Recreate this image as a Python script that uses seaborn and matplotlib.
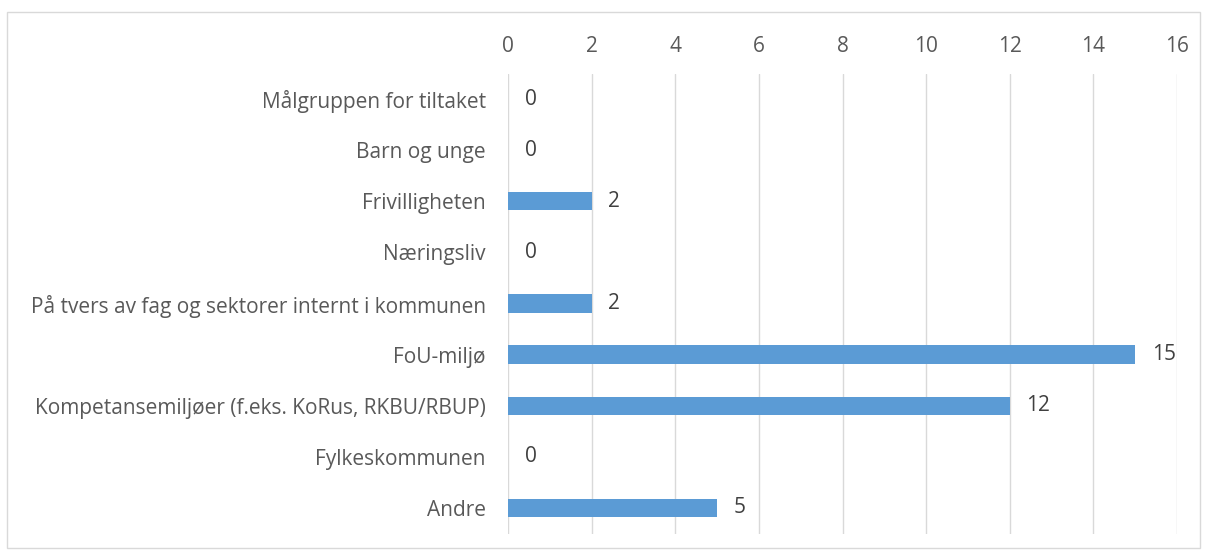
import matplotlib
matplotlib.use("Agg")
import matplotlib.pyplot as plt
import seaborn as sns
import pandas as pd
from matplotlib.patches import Rectangle

categories = [
    "Målgruppen for tiltaket",
    "Barn og unge",
    "Frivilligheten",
    "Næringsliv",
    "På tvers av fag og sektorer internt i kommunen",
    "FoU-miljø",
    "Kompetansemiljøer (f.eks. KoRus, RKBU/RBUP)",
    "Fylkeskommunen",
    "Andre",
]
values = [0, 0, 2, 0, 2, 15, 12, 0, 5]
xticks = [0, 2, 4, 6, 8, 10, 12, 14, 16]

sns.set_theme(style="white")
plt.rcParams['font.family'] = ['Open Sans', 'DejaVu Sans']

df = pd.DataFrame({"cat": categories, "val": values})

fig = plt.figure(figsize=(12.08, 5.55), dpi=100)
ax = fig.add_axes([508/1208, 1-533.5/555, (1177-508)/1208, (533.5-73.5)/555])

sns.barplot(data=df, x="val", y="cat", color="#5B9BD5", saturation=1, width=0.36,
            linewidth=0, ax=ax)

ax.set_xlim(0, 16)
ax.set_xticks(xticks)
ax.xaxis.tick_top()
ax.tick_params(axis='x', length=0, labelsize=15, labelcolor="#595959", pad=12)
ax.tick_params(axis='y', length=0, labelsize=15, labelcolor="#595959", pad=16)
ax.set_xlabel("")
ax.set_ylabel("")
ax.grid(axis='x', color="#D9D9D9", linewidth=1)
ax.set_axisbelow(True)
for s in ax.spines.values():
    s.set_visible(False)

for i, v in enumerate(values):
    ax.annotate(str(v), (v, i), xytext=(12, 0), textcoords="offset points",
                ha="left", va="center", fontsize=15, color="#404040")

fig.patches.append(Rectangle((7/1208, 1-548/555), (1200-7)/1208, (548-12)/555,
                             transform=fig.transFigure, fill=False,
                             edgecolor="#D9D9D9", linewidth=1))

fig.savefig("out.png", dpi=100)
